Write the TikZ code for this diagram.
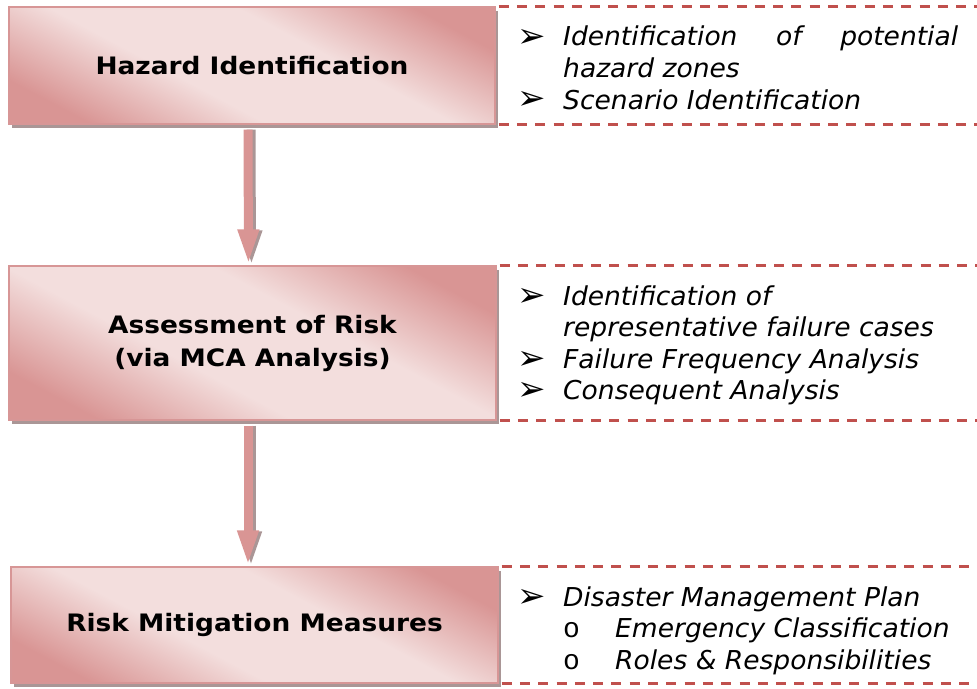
\documentclass[tikz,border=0pt]{standalone}
\usepackage{fontspec}
\setmainfont{DejaVu Sans}[FakeStretch=1.02]
\newfontfamily\titlefam{DejaVu Sans}[FakeStretch=1.1]
\newfontfamily\symfam{DejaVu Sans}
\newfontfamily\monofam{Liberation Mono}
\usetikzlibrary{arrows.meta,shadows}
\definecolor{dk}{RGB}{217,149,148}
\definecolor{lt}{RGB}{243,222,221}
\definecolor{bd}{RGB}{215,150,150}
\definecolor{shd}{RGB}{170,150,150}
\definecolor{dsh}{RGB}{192,80,77}
\pgfdeclareverticalshading{pinkband}{100bp}{color(0bp)=(dk); color(24bp)=(dk); color(41bp)=(lt); color(59bp)=(lt); color(76bp)=(dk); color(100bp)=(dk)}
\newcommand\arrbul{\makebox[46pt][l]{\symfam\upshape\fontsize{34}{34}\selectfont\raisebox{-1pt}{➢}}}
\newcommand\subbul{\makebox[46pt][l]{}\makebox[52pt][l]{\monofam\upshape\fontsize{28}{28}\selectfont o}}
\newcommand\bitem{\par\noindent\hangindent=46pt\hangafter=1\arrbul}
\tikzset{
  stepbox/.style={draw=bd, line width=1.2pt, shading=pinkband, shading angle=-28,
    drop shadow={shadow xshift=3pt, shadow yshift=-4pt, fill=shd, opacity=1},
    inner sep=0pt, align=center, font=\titlefam\fontsize{24}{33}\selectfont\bfseries},
  listbox/.style={inner sep=0pt, text width=441pt, align=justify, anchor=base west,
    font=\fontsize{26}{31.5}\selectfont\itshape},
  dashline/.style={draw=dsh, line width=2.5pt, dash pattern=on 10pt off 8.3pt},
  flow/.style={draw=dk, line width=9pt, -{Triangle[width=19pt,length=36pt]}},
  flowshadow/.style={draw=shd, line width=9pt, -{Triangle[width=19pt,length=36pt]}},
}
\begin{document}
\begin{tikzpicture}[x=1pt,y=-1pt]
\useasboundingbox (0,0) rectangle (977,688);
\coordinate (R) at (977,0);
% boxes
\node[stepbox, minimum width=486pt, minimum height=117pt] (h) at (252,65.5) {Hazard Identification};
\node[stepbox, minimum width=487pt, minimum height=154pt] (a) at (252.5,343) {Assessment of Risk\\(via MCA Analysis)};
\node[stepbox, minimum width=487pt, minimum height=116pt] (m) at (254.5,625) {Risk Mitigation Measures};
% arrows
\coordinate (h1) at ([xshift=-4pt,yshift=-5pt]h.south);
\coordinate (a1) at ([xshift=-4pt]a.north);
\coordinate (a2) at ([xshift=-4.5pt,yshift=-5pt]a.south);
\coordinate (m1) at ([xshift=-6.5pt]m.north);
\draw[flowshadow] ([xshift=3pt]h1) -- ([xshift=3pt,yshift=-1pt]a1);
\draw[flow] (h1) -- (a1);
\draw[flowshadow] ([xshift=3pt]a2) -- ([xshift=3pt,yshift=-1pt]m1);
\draw[flow] (a2) -- (m1);
% dashed frames
\draw[dashline] ([xshift=3pt]h.north east) -- (h.north east -| R);
\draw[dashline] ([xshift=3pt]h.south east) -- (h.south east -| R);
\draw[dashline] ([xshift=3pt]a.north east) -- (a.north east -| R);
\draw[dashline] ([xshift=3pt]a.south east) -- (a.south east -| R);
\draw[dashline] ([xshift=3pt]m.north east) -- (m.north east -| R);
\draw[dashline] ([xshift=3pt]m.south east) -- (m.south east -| R);
% lists
\node[listbox] (l1) at (517,14.5) {\bitem Identification of potential\linebreak hazard zones\bitem Scenario Identification};
\node[listbox] (l2) at (517,273.5) {\bitem Identification of\newline representative failure cases\bitem Failure Frequency Analysis\bitem Consequent Analysis};
\node[listbox] (l3) at (517,574.5) {\bitem Disaster Management Plan\par\noindent\subbul Emergency Classification\par\noindent\subbul Roles \& Responsibilities};
\end{tikzpicture}
\end{document}
